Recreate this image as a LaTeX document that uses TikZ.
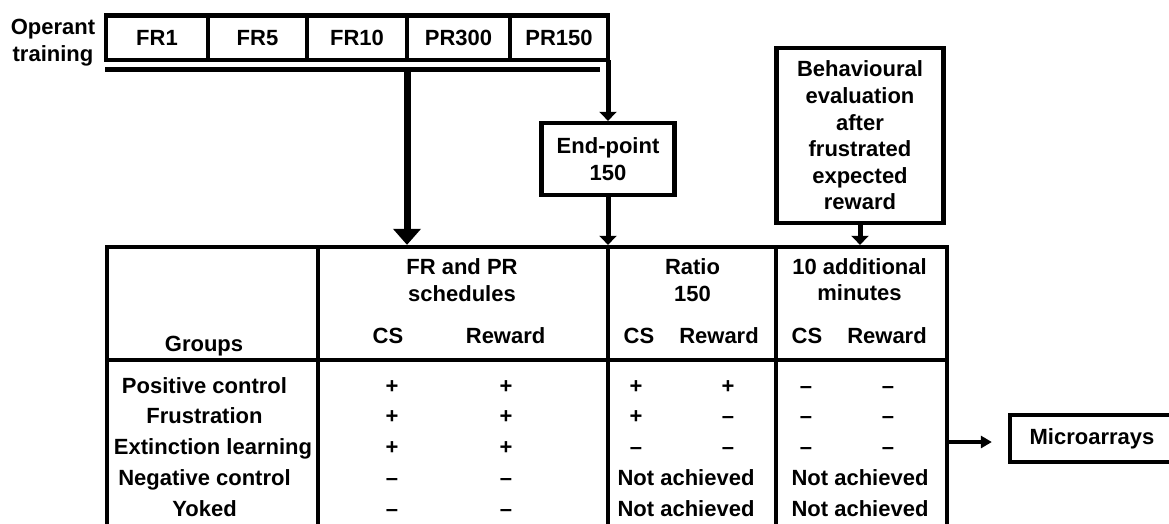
\documentclass[tikz,border=0pt]{standalone}
\usepackage{fontspec}
\setmainfont{Liberation Sans}
\usetikzlibrary{arrows.meta}
\begin{document}
\begin{tikzpicture}[x=1pt,y=-1pt,
  every node/.style={font=\bfseries\fontsize{22}{26.6}\selectfont, inner sep=0pt, outer sep=0pt},
  lbl/.style={anchor=base},
  ml/.style={align=center},
  boxed/.style={draw, line width=4.3pt, align=center, outer sep=2.15pt},
  topbox/.style={draw, line width=4.3pt, minimum height=44.7pt, outer sep=0pt},
  tabline/.style={line width=4.3pt, line cap=rect, line join=miter},
  bigarrow/.style={line width=7pt, -{Triangle[width=27pt,length=16pt]}},
  arrow/.style={line width=5pt, -{Triangle[width=17pt,length=9pt]}},
  smallarrow/.style={line width=3.8pt, -{Triangle[width=12pt,length=11pt]}}]
\useasboundingbox (0,0) rectangle (1169,523);
\clip (0,0) rectangle (1169,523);

% operant training row
\node[lbl] (op1) at (53,34.5) {Operant};
\node[lbl] (op2) at (53,61) {training};
\node[topbox, minimum width=102pt] (fr1) at (157,37.7) {FR1};
\node[topbox, minimum width=99pt] (fr5) at (257.5,37.7) {FR5};
\node[topbox, minimum width=100pt] (fr10) at (357,37.7) {FR10};
\node[topbox, minimum width=103pt] (pr300) at (458.5,37.7) {PR300};
\node[topbox, minimum width=98pt] (pr150) at (559,37.7) {PR150};

\coordinate (ul1) at (105,69);
\coordinate (ul2) at (600,69);
\draw[line width=5pt] (ul1) -- (ul2);

% boxes
\node[boxed, minimum width=133pt, minimum height=72pt] (endpt) at (608,159) {End-point\\150};
\node[boxed, minimum width=167pt, minimum height=175pt] (beh) at (860,135.5) {Behavioural\\evaluation\\after\\frustrated\\expected\\reward};
\node[boxed, minimum width=220pt, minimum height=47pt] (micro) at (1120,438.5) {Microarrays\hspace*{56pt}};

% table
\coordinate (tNW) at (107,247);
\coordinate (tNE) at (947,247);
\draw[tabline] (107,530) -- (tNW) -- (tNE) -- (947,530);
\draw[tabline] (318,247) -- (318,530);
\draw[tabline] (608,247) -- (608,530);
\draw[tabline] (776,247) -- (776,530);
\draw[tabline] (107,360) -- (947,360);

% connectors
\coordinate (tap) at (407,69);
\coordinate (tA) at (407,244.85);
\coordinate (tB) at (608,244.85);
\coordinate (tC) at (860,244.85);
\draw[bigarrow] (tap) -- (tA);
\draw[arrow] (pr150.south east) -- (endpt.north);
\draw[arrow] (endpt.south) -- (tB);
\draw[arrow] (beh.south) -- (tC);
\coordinate (tM) at (947,442);
\coordinate (mtip) at ([xshift=-16pt]micro.west);
\draw[smallarrow] (tM) -- (tM -| mtip);

% header
\node[ml] (h1) at (462,280) {FR and PR\\schedules};
\node[ml] (h2) at (692.5,280) {Ratio\\150};
\node[ml] (h3) at (859.5,279.5) {10 additional\\minutes};
\node[lbl] (grp) at (204,351.5) {Groups};
\node[lbl] (cs1) at (388,343) {CS};
\node[lbl] (rw1) at (505.6,343) {Reward};
\node[lbl] (cs2) at (639,343) {CS};
\node[lbl] (rw2) at (719,343) {Reward};
\node[lbl] (cs3) at (807,343) {CS};
\node[lbl] (rw3) at (887,343) {Reward};

% group names
\node[lbl] (g1) at (204.5,393) {Positive control};
\node[lbl] (g2) at (204.5,423.5) {Frustration};
\node[lbl] (g3) at (213,454.5) {Extinction learning};
\node[lbl] (g4) at (204.5,485) {Negative control};
\node[lbl] (g5) at (204.5,516) {Yoked};

% row 1
\node[lbl] (a1) at (392,393) {+};
\node[lbl] (b1) at (506,393) {+};
\node[lbl] (c1) at (636,393) {+};
\node[lbl] (d1) at (728,393) {+};
\node[lbl] (e1) at (806,393) {–};
\node[lbl] (f1) at (888,393) {–};
% row 2
\node[lbl] (a2) at (392,423.5) {+};
\node[lbl] (b2) at (506,423.5) {+};
\node[lbl] (c2) at (636,423.5) {+};
\node[lbl] (d2) at (728,423.5) {–};
\node[lbl] (e2) at (806,423.5) {–};
\node[lbl] (f2) at (888,423.5) {–};
% row 3
\node[lbl] (a3) at (392,454.5) {+};
\node[lbl] (b3) at (506,454.5) {+};
\node[lbl] (c3) at (636,454.5) {–};
\node[lbl] (d3) at (728,454.5) {–};
\node[lbl] (e3) at (806,454.5) {–};
\node[lbl] (f3) at (888,454.5) {–};
% row 4
\node[lbl] (a4) at (392,485) {–};
\node[lbl] (b4) at (506,485) {–};
\node[lbl] (n4r) at (686,485) {Not achieved};
\node[lbl] (n4m) at (860,485) {Not achieved};
% row 5
\node[lbl] (a5) at (392,516) {–};
\node[lbl] (b5) at (506,516) {–};
\node[lbl] (n5r) at (686,516) {Not achieved};
\node[lbl] (n5m) at (860,516) {Not achieved};
\end{tikzpicture}
\end{document}
